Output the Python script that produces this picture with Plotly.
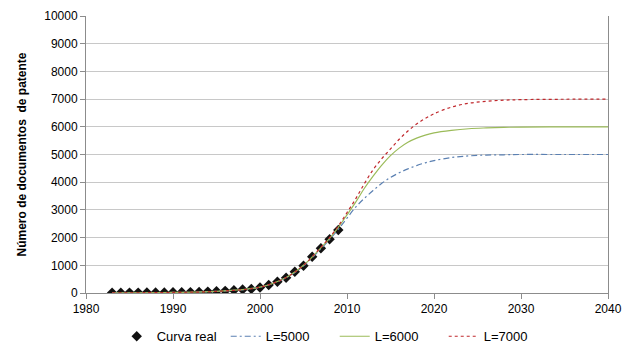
import plotly.graph_objects as go

# Real data (Curva real)
years_real = list(range(1983, 2010))
values_real = [10, 12, 14, 15, 18, 20, 22, 25, 28, 32, 38, 50, 62, 78, 100, 125, 145,
               200, 289, 408, 552, 769, 986, 1310, 1613, 1938, 2274]

# Model curves
years_curve = [1983, 1990, 1995, 2000, 2003, 2005, 2007, 2008, 2009, 2010, 2011, 2012,
               2013, 2014, 2015, 2016, 2017, 2018, 2019, 2020, 2022, 2024, 2026, 2028,
               2030, 2035, 2040]
l5000 = [5, 20, 60, 210, 550, 980, 1600, 1930, 2300, 2700, 3100, 3420,
         3700, 3960, 4170, 4340, 4480, 4600, 4700, 4780, 4890, 4950, 4980, 4990,
         5000, 5000, 5000]
l6000 = [5, 20, 60, 210, 560, 1000, 1630, 1970, 2370, 2820, 3280, 3780,
         4220, 4620, 4960, 5230, 5440, 5590, 5700, 5780, 5870, 5930, 5960, 5980,
         5990, 6000, 6000]
l7000 = [5, 20, 60, 210, 560, 1000, 1650, 2000, 2420, 2900, 3400, 3950,
         4450, 4850, 5200, 5550, 5850, 6100, 6300, 6470, 6710, 6850, 6920, 6960,
         6980, 6995, 7000]

x_ticks = [1980, 1990, 2000, 2010, 2020, 2030, 2040]
y_ticks = [0, 1000, 2000, 3000, 4000, 5000, 6000, 7000, 8000, 9000, 10000]
y_labels = [str(v) for v in y_ticks]

fig = go.Figure()
fig.add_trace(go.Scatter(x=years_real, y=values_real, mode="markers", name="Curva real",
                         marker=dict(symbol="diamond", size=8, color="#111111")))
fig.add_trace(go.Scatter(x=years_curve, y=l5000, mode="lines", name="L=5000",
                         line=dict(color="#5b80b2", width=1.2, dash="6px,3px,2px,3px",
                                   shape="spline")))
fig.add_trace(go.Scatter(x=years_curve, y=l6000, mode="lines", name="L=6000",
                         line=dict(color="#9bbb59", width=1.2, shape="spline")))
fig.add_trace(go.Scatter(x=years_curve, y=l7000, mode="lines", name="L=7000",
                         line=dict(color="#c0282d", width=1.2, dash="3px,3px",
                                   shape="spline")))

fig.update_layout(
    width=640, height=357,
    margin=dict(l=86, r=32, t=16, b=64),
    paper_bgcolor="white", plot_bgcolor="white",
    font=dict(family="Liberation Sans, Arial, sans-serif", size=12, color="#000000"),
    showlegend=True,
    legend=dict(orientation="h", xref="container", yref="container",
                x=0.523, xanchor="center", y=0.058, yanchor="middle",
                traceorder="normal", font=dict(size=13),
                entrywidth=64, entrywidthmode="pixels",
                bgcolor="rgba(0,0,0,0)"),
    xaxis=dict(range=[1980, 2040], tickvals=x_ticks, showgrid=False,
               showline=True, linecolor="#8c8c8c", linewidth=1, automargin=False,
               ticks="outside", ticklen=5, tickcolor="#8c8c8c", zeroline=False),
    yaxis=dict(range=[0, 10000], tickvals=y_ticks, ticktext=y_labels,
               showgrid=True, gridcolor="#c8c8c8", automargin=False,
               showline=True, linecolor="#8c8c8c", linewidth=1, mirror=True,
               ticks="outside", ticklen=5, tickcolor="#8c8c8c", zeroline=False,
               title=dict(text="<b>Número de documentos  de patente</b>", standoff=15,
                          font=dict(size=12))),
)

fig.write_html("out.html", post_script="document.body.style.margin='0';",
               config={"displayModeBar": False})
